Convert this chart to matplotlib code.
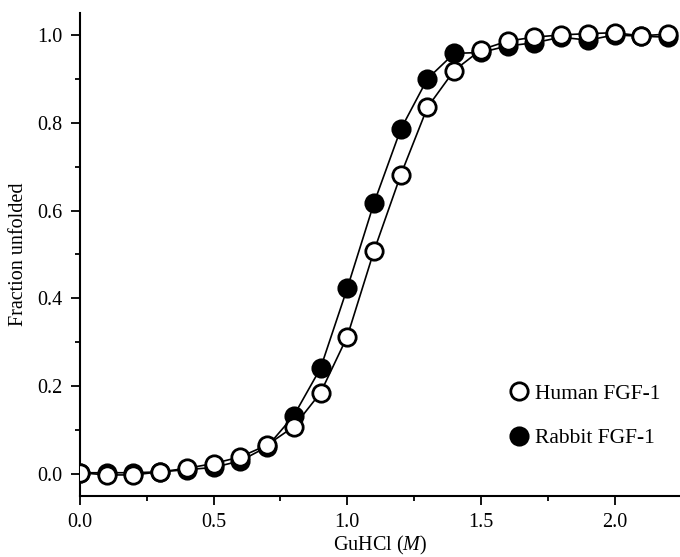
import matplotlib
matplotlib.use("Agg")
import matplotlib.pyplot as plt
from matplotlib.lines import Line2D
from matplotlib.ticker import MultipleLocator

plt.rcParams['font.family'] = ['Liberation Serif', 'DejaVu Serif']
plt.rcParams['mathtext.fontset'] = 'custom'
plt.rcParams['mathtext.rm'] = 'Liberation Serif'
plt.rcParams['mathtext.it'] = 'Liberation Serif:italic'

guhcl = [0.0, 0.1, 0.2, 0.3, 0.4, 0.5, 0.6, 0.7, 0.8, 0.9, 1.0, 1.1,
         1.2, 1.3, 1.4, 1.5, 1.6, 1.7, 1.8, 1.9, 2.0, 2.1, 2.2]
human = [0.003, -0.002, -0.002, 0.005, 0.013, 0.024, 0.039, 0.066, 0.108,
         0.185, 0.313, 0.508, 0.681, 0.835, 0.919, 0.966, 0.986, 0.995,
         1.0, 1.003, 1.005, 0.998, 1.002]
rabbit = [0.003, 0.003, 0.003, 0.005, 0.010, 0.015, 0.030, 0.062, 0.133,
          0.241, 0.423, 0.617, 0.785, 0.900, 0.958, 0.960, 0.975, 0.982,
          0.995, 0.988, 1.0, 0.997, 0.995]
labels = ["Human FGF-1", "Rabbit FGF-1"]

fig = plt.figure(figsize=(6.8, 5.57), dpi=100)
ax = fig.add_axes([0.1176, 0.1095, 0.8824, 0.8672])

ms = 12.5
mew = 2.0
ax.plot(guhcl, rabbit, color='black', lw=1.2, zorder=2)
ax.plot(guhcl, human, color='black', lw=1.2, zorder=2)
ax.plot(guhcl, rabbit, ls='none', marker='o', ms=ms, mfc='black', mec='black', mew=mew, zorder=3)
ax.plot(guhcl, human, ls='none', marker='o', ms=ms, mfc='white', mec='black', mew=mew, zorder=4)

ax.set_xlim(0, 2.245)
ax.set_ylim(-0.05, 1.05)
ax.xaxis.set_major_locator(MultipleLocator(0.5))
ax.xaxis.set_minor_locator(MultipleLocator(0.25))
ax.yaxis.set_major_locator(MultipleLocator(0.2))
ax.yaxis.set_minor_locator(MultipleLocator(0.1))
ax.xaxis.set_major_formatter(matplotlib.ticker.FormatStrFormatter('%.1f'))
ax.yaxis.set_major_formatter(matplotlib.ticker.FormatStrFormatter('%.1f'))

for s in ['top', 'right']:
    ax.spines[s].set_visible(False)
for s in ['left', 'bottom']:
    ax.spines[s].set_linewidth(1.5)
ax.tick_params(which='major', direction='out', length=6.5, width=1.3, labelsize=14.5, pad=6)
ax.tick_params(which='minor', direction='out', length=3.5, width=1.3)

ax.set_xlabel(r'GuHCl ($\mathit{M}$)', fontsize=14.5, labelpad=1)
ax.set_ylabel('Fraction unfolded', fontsize=14.5, labelpad=7)

handles = [
    Line2D([], [], ls='none', marker='o', ms=ms, mfc='white', mec='black', mew=mew),
    Line2D([], [], ls='none', marker='o', ms=ms, mfc='black', mec='black', mew=mew),
]
fig.legend(handles, labels, loc='center left', bbox_to_anchor=(0.733, 0.253),
           frameon=False, fontsize=15.5, handlelength=0.9, handletextpad=0.3,
           borderpad=0, labelspacing=1.12)

fig.savefig('out.png', dpi=100)
